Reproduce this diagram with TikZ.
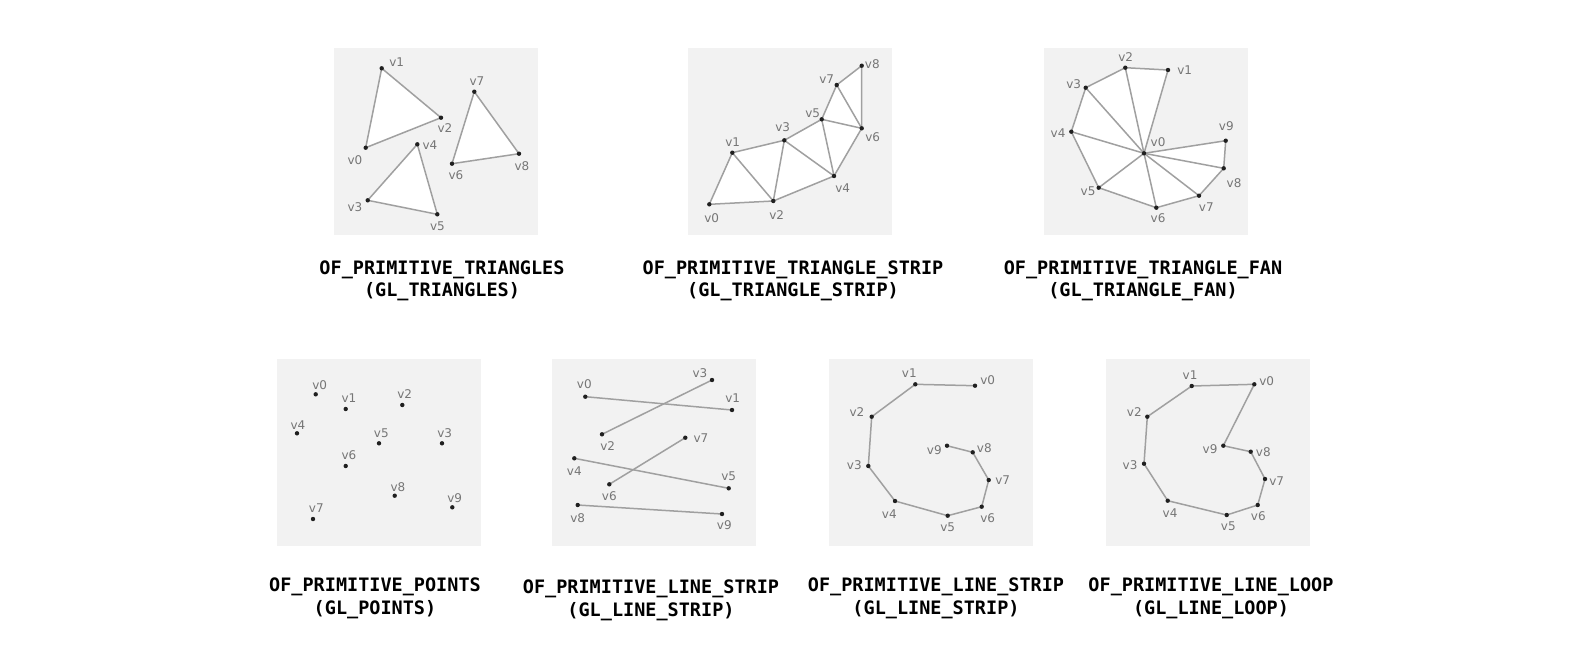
\documentclass[tikz,border=0pt]{standalone}
\usepackage{fontspec}
\setmainfont{DejaVu Sans}
\newfontfamily\titlefont{DejaVu Sans Mono}
\definecolor{panelgray}{HTML}{F2F2F2}
\definecolor{linegray}{HTML}{A0A0A0}
\definecolor{labgray}{HTML}{767676}
\definecolor{dotc}{HTML}{202020}
\begin{document}
\begin{tikzpicture}[x=1pt,y=-1pt,
  panel/.style={fill=panelgray},
  edge/.style={draw=linegray,line width=1.5pt,line join=round},
  tri/.style={fill=white},
  vlab/.style={font=\fontsize{12}{12}\selectfont,text=labgray,inner sep=0pt},
  ttl/.style={font=\titlefont\bfseries\fontsize{18.5}{20}\selectfont,inner sep=0pt},
]
\fill[white] (0,0) rectangle (1581,654);
\useasboundingbox (0,0) rectangle (1581,654);
% panels
\fill[panel] (333.5,47.5) rectangle ++(204,187);
\fill[panel] (687.5,47.5) rectangle ++(204,187);
\fill[panel] (1043.5,47.5) rectangle ++(204,187);
\fill[panel] (276.5,359) rectangle ++(204,187);
\fill[panel] (551.5,359) rectangle ++(204,187);
\fill[panel] (829,359) rectangle ++(204,187);
\fill[panel] (1106,359) rectangle ++(204,187);

% ---------- panel 1: triangles
\coordinate (a0) at (365.7,147.7);
\coordinate (a1) at (381.7,68.3);
\coordinate (a2) at (441,117.7);
\coordinate (a3) at (367.7,200.3);
\coordinate (a4) at (417.3,144.3);
\coordinate (a5) at (437.3,214.3);
\coordinate (a6) at (452,163.7);
\coordinate (a7) at (474.3,91.7);
\coordinate (a8) at (519,153.7);
\fill[tri] (a0) -- (a1) -- (a2) -- cycle;
\fill[tri] (a3) -- (a4) -- (a5) -- cycle;
\fill[tri] (a6) -- (a7) -- (a8) -- cycle;
\draw[edge] (a0) -- (a1) -- (a2) -- cycle;
\draw[edge] (a3) -- (a4) -- (a5) -- cycle;
\draw[edge] (a6) -- (a7) -- (a8) -- cycle;
\node[vlab] (la0) at (355,160) {v0};
\node[vlab] (la1) at (396.7,62.5) {v1};
\node[vlab] (la2) at (445,128) {v2};
\node[vlab] (la3) at (355,207) {v3};
\node[vlab] (la4) at (430,145) {v4};
\node[vlab] (la5) at (437.5,226) {v5};
\node[vlab] (la6) at (456,175.5) {v6};
\node[vlab] (la7) at (477,81) {v7};
\node[vlab] (la8) at (522,166) {v8};

% ---------- panel 2: triangle strip
\coordinate (b0) at (709.3,204.3);
\coordinate (b1) at (732.3,152.7);
\coordinate (b2) at (773.3,201);
\coordinate (b3) at (784.3,140.3);
\coordinate (b4) at (834,176);
\coordinate (b5) at (821.7,119.3);
\coordinate (b6) at (861.7,128.3);
\coordinate (b7) at (836.7,85);
\coordinate (b8) at (861.7,65.7);
\fill[tri] (b0) -- (b1) -- (b3) -- (b5) -- (b7) -- (b8) -- (b6) -- (b4) -- (b2) -- cycle;
\draw[edge] (b0) -- (b1) -- (b3) -- (b5) -- (b7) -- (b8) -- (b6) -- (b4) -- (b2) -- cycle;
\draw[edge] (b1) -- (b2) -- (b3) -- (b4) -- (b5) -- (b6) -- (b7);
\node[vlab] (lb0) at (711.7,218) {v0};
\node[vlab] (lb1) at (732.7,142.5) {v1};
\node[vlab] (lb2) at (776.7,215) {v2};
\node[vlab] (lb3) at (782.7,127) {v3};
\node[vlab] (lb4) at (842.7,188.3) {v4};
\node[vlab] (lb5) at (812.7,113.3) {v5};
\node[vlab] (lb6) at (872.7,136.7) {v6};
\node[vlab] (lb7) at (826.7,79.3) {v7};
\node[vlab] (lb8) at (872.3,64.3) {v8};

% ---------- panel 3: triangle fan
\coordinate (c0) at (1144,153.3);
\coordinate (c1) at (1168,70);
\coordinate (c2) at (1125.3,67.7);
\coordinate (c3) at (1085.7,87.7);
\coordinate (c4) at (1071.3,131.7);
\coordinate (c5) at (1098.7,187.7);
\coordinate (c6) at (1156.3,207.7);
\coordinate (c7) at (1199,195.7);
\coordinate (c8) at (1223.7,168.3);
\coordinate (c9) at (1225.7,140.7);
\fill[tri] (c0) -- (c1) -- (c2) -- (c3) -- (c4) -- (c5) -- (c6) -- (c7) -- (c8) -- (c9) -- cycle;
\draw[edge] (c0) -- (c1) -- (c2) -- (c3) -- (c4) -- (c5) -- (c6) -- (c7) -- (c8) -- (c9) -- cycle;
\foreach \k in {2,...,8} \draw[edge] (c0) -- (c\k);
\node[vlab] (lc0) at (1158,141.7) {v0};
\node[vlab] (lc1) at (1184.7,70) {v1};
\node[vlab] (lc2) at (1125.7,56.7) {v2};
\node[vlab] (lc3) at (1073.7,84.3) {v3};
\node[vlab] (lc4) at (1058,133.3) {v4};
\node[vlab] (lc5) at (1088,191.7) {v5};
\node[vlab] (lc6) at (1158,218.3) {v6};
\node[vlab] (lc7) at (1206.3,207.3) {v7};
\node[vlab] (lc8) at (1234,182.7) {v8};
\node[vlab] (lc9) at (1226.3,126) {v9};

% ---------- panel 4: points
\coordinate (d0) at (315.7,394.3);
\coordinate (d1) at (345.7,409);
\coordinate (d2) at (402.3,405);
\coordinate (d3) at (442,443.3);
\coordinate (d4) at (297,433.3);
\coordinate (d5) at (379,443.3);
\coordinate (d6) at (345.7,466);
\coordinate (d7) at (313,519);
\coordinate (d8) at (394.7,495.7);
\coordinate (d9) at (452.3,507.3);
\node[vlab] (ld0) at (319.7,385) {v0};
\node[vlab] (ld1) at (349,398.3) {v1};
\node[vlab] (ld2) at (404.7,394.3) {v2};
\node[vlab] (ld3) at (444.7,433.3) {v3};
\node[vlab] (ld4) at (298,425) {v4};
\node[vlab] (ld5) at (381.3,433.3) {v5};
\node[vlab] (ld6) at (349,455) {v6};
\node[vlab] (ld7) at (316.3,508.3) {v7};
\node[vlab] (ld8) at (398,486.7) {v8};
\node[vlab] (ld9) at (454.7,497.7) {v9};

% ---------- panel 5: lines
\coordinate (e0) at (585.3,396.7);
\coordinate (e1) at (732,410);
\coordinate (e2) at (602,434.3);
\coordinate (e3) at (712,380);
\coordinate (e4) at (574.3,458.3);
\coordinate (e5) at (728.7,488.3);
\coordinate (e6) at (609.3,484.3);
\coordinate (e7) at (685.3,437.7);
\coordinate (e8) at (577.7,505);
\coordinate (e9) at (722,514);
\draw[edge] (e0) -- (e1);
\draw[edge] (e2) -- (e3);
\draw[edge] (e4) -- (e5);
\draw[edge] (e6) -- (e7);
\draw[edge] (e8) -- (e9);
\node[vlab] (le0) at (584.3,384.3) {v0};
\node[vlab] (le1) at (732.7,397.7) {v1};
\node[vlab] (le2) at (607.7,445.7) {v2};
\node[vlab] (le3) at (700,373.3) {v3};
\node[vlab] (le4) at (574.3,471) {v4};
\node[vlab] (le5) at (728.7,476) {v5};
\node[vlab] (le6) at (609.3,495.7) {v6};
\node[vlab] (le7) at (701,437.7) {v7};
\node[vlab] (le8) at (577.7,518.3) {v8};
\node[vlab] (le9) at (724.3,525) {v9};

% ---------- panel 6: line strip
\coordinate (f0) at (975,385.7);
\coordinate (f1) at (915.3,384.3);
\coordinate (f2) at (871.7,416.7);
\coordinate (f3) at (868.3,466);
\coordinate (f4) at (895,501);
\coordinate (f5) at (947.7,515.7);
\coordinate (f6) at (981.7,506.7);
\coordinate (f7) at (988.7,480);
\coordinate (f8) at (972.7,452.3);
\coordinate (f9) at (947,445.7);
\draw[edge] (f0) -- (f1) -- (f2) -- (f3) -- (f4) -- (f5) -- (f6) -- (f7) -- (f8) -- (f9);
\node[vlab] (lf0) at (987.7,380) {v0};
\node[vlab] (lf1) at (909.3,373.3) {v1};
\node[vlab] (lf2) at (857,411.7) {v2};
\node[vlab] (lf3) at (854.3,465) {v3};
\node[vlab] (lf4) at (889.3,514.3) {v4};
\node[vlab] (lf5) at (947.7,527.7) {v5};
\node[vlab] (lf6) at (987.7,518.3) {v6};
\node[vlab] (lf7) at (1002.7,480) {v7};
\node[vlab] (lf8) at (984.3,447.7) {v8};
\node[vlab] (lf9) at (934.3,450) {v9};

% ---------- panel 7: line loop
\coordinate (g0) at (1254.3,384.3);
\coordinate (g1) at (1191.7,386);
\coordinate (g2) at (1147.3,416.7);
\coordinate (g3) at (1144,463.7);
\coordinate (g4) at (1167.7,500.7);
\coordinate (g5) at (1226.7,515);
\coordinate (g6) at (1257.7,505);
\coordinate (g7) at (1265,479);
\coordinate (g8) at (1250.7,451.7);
\coordinate (g9) at (1223.3,445.7);
\draw[edge] (g0) -- (g1) -- (g2) -- (g3) -- (g4) -- (g5) -- (g6) -- (g7) -- (g8) -- (g9) -- cycle;
\node[vlab] (lg0) at (1266.7,381) {v0};
\node[vlab] (lg1) at (1190,375) {v1};
\node[vlab] (lg2) at (1134.3,412.3) {v2};
\node[vlab] (lg3) at (1130,465) {v3};
\node[vlab] (lg4) at (1170,513.3) {v4};
\node[vlab] (lg5) at (1228.3,525.7) {v5};
\node[vlab] (lg6) at (1258.3,515.7) {v6};
\node[vlab] (lg7) at (1276.7,481) {v7};
\node[vlab] (lg8) at (1263.3,451.7) {v8};
\node[vlab] (lg9) at (1210,449) {v9};

% dots
\foreach \p in {a0,a1,a2,a3,a4,a5,a6,a7,a8,
                b0,b1,b2,b3,b4,b5,b6,b7,b8,
                c0,c1,c2,c3,c4,c5,c6,c7,c8,c9,
                d0,d1,d2,d3,d4,d5,d6,d7,d8,d9,
                e0,e1,e2,e3,e4,e5,e6,e7,e8,e9,
                f0,f1,f2,f3,f4,f5,f6,f7,f8,f9,
                g0,g1,g2,g3,g4,g5,g6,g7,g8,g9}
  \fill[dotc] (\p) circle (2.2pt);

% titles
\node[ttl] (t1a) at (442,270) {OF\_PRIMITIVE\_TRIANGLES};
\node[ttl] (t1b) at (442,292) {(GL\_TRIANGLES)};
\node[ttl] (t2a) at (793,270) {OF\_PRIMITIVE\_TRIANGLE\_STRIP};
\node[ttl] (t2b) at (793,292) {(GL\_TRIANGLE\_STRIP)};
\node[ttl] (t3a) at (1143,270) {OF\_PRIMITIVE\_TRIANGLE\_FAN};
\node[ttl] (t3b) at (1143,292) {(GL\_TRIANGLE\_FAN)};
\node[ttl] (t4a) at (375,587) {OF\_PRIMITIVE\_POINTS};
\node[ttl] (t4b) at (375,610) {(GL\_POINTS)};
\node[ttl] (t5a) at (651,589) {OF\_PRIMITIVE\_LINE\_STRIP};
\node[ttl] (t5b) at (651,612) {(GL\_LINE\_STRIP)};
\node[ttl] (t6a) at (936,587) {OF\_PRIMITIVE\_LINE\_STRIP};
\node[ttl] (t6b) at (936,610) {(GL\_LINE\_STRIP)};
\node[ttl] (t7a) at (1211,587) {OF\_PRIMITIVE\_LINE\_LOOP};
\node[ttl] (t7b) at (1211,610) {(GL\_LINE\_LOOP)};
\end{tikzpicture}
\end{document}
